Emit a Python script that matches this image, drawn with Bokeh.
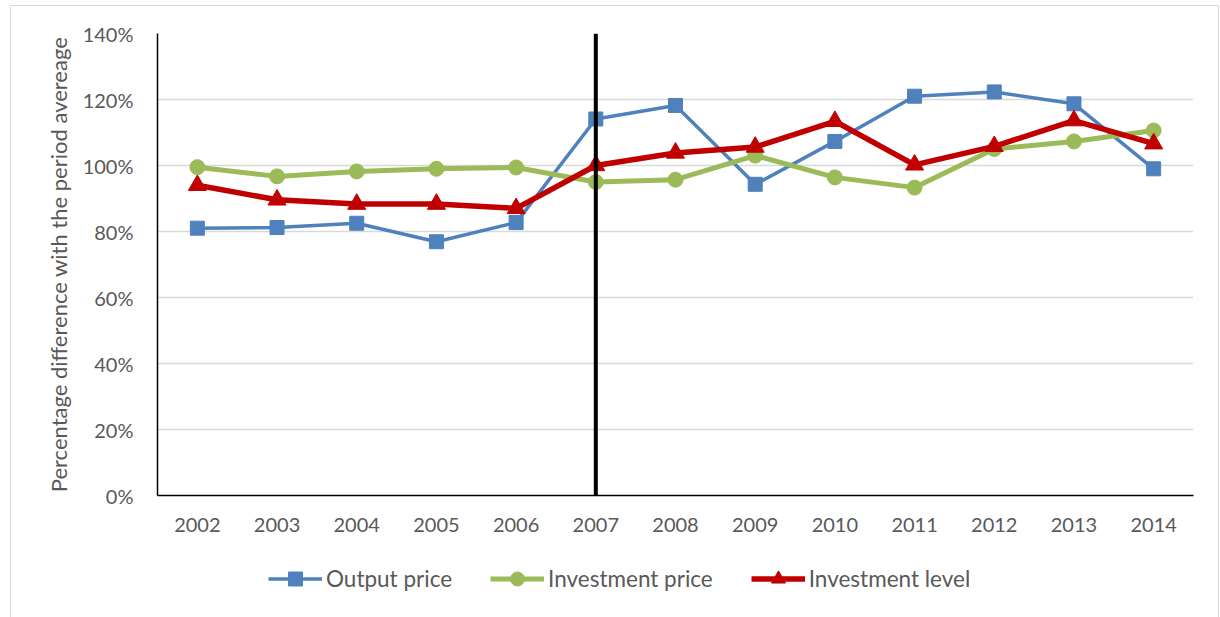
from bokeh.plotting import figure
from bokeh.layouts import column
from bokeh.models import FactorRange, Range1d, FixedTicker, PrintfTickFormatter, Legend, LegendItem
from bokeh.embed import file_html
from bokeh.resources import INLINE

years = ["2002", "2003", "2004", "2005", "2006", "2007", "2008",
         "2009", "2010", "2011", "2012", "2013", "2014"]
output_price = [81.0, 81.2, 82.5, 76.9, 82.7, 114.1, 118.2, 94.3, 107.3, 121.0, 122.3, 118.7, 99.0]
investment_price = [99.5, 96.7, 98.2, 99.0, 99.4, 95.0, 95.7, 103.0, 96.4, 93.3, 105.0, 107.3, 110.6]
investment_level = [94.0, 89.6, 88.3, 88.3, 87.0, 100.0, 103.8, 105.6, 113.4, 100.2, 105.8, 113.6, 106.6]
series_names = ["Output price", "Investment price", "Investment level"]
y_ticks = [0, 20, 40, 60, 80, 100, 120, 140]
break_year = "2007"
y_min, y_max = 0, 140

FONT = "Lato"
GREY = "#595959"
blue, green, red = "#4f81bd", "#9bbb59", "#c00000"
styles_ = [
    dict(color=blue, lw=3.5, marker="square", size=14),
    dict(color=green, lw=5, marker="circle", size=15),
    dict(color=red, lw=5.5, marker="triangle", size=18),
]
data = [output_price, investment_price, investment_level]

x_range = FactorRange(*years)

p = figure(width=1207, height=545, output_backend="svg", toolbar_location=None,
           x_range=x_range, y_range=Range1d(y_min, y_max),
           min_border_left=146, min_border_right=25, min_border_top=27, min_border_bottom=56)
p.outline_line_color = None
p.background_fill_color = "white"
p.border_fill_color = "white"

p.xgrid.grid_line_color = None
p.ygrid.grid_line_color = "#d9d9d9"
p.ygrid.grid_line_width = 1.5

p.yaxis.ticker = FixedTicker(ticks=y_ticks)
p.yaxis.formatter = PrintfTickFormatter(format="%d%%")
for ax in (p.xaxis[0], p.yaxis[0]):
    ax.axis_line_color = "black"
    ax.axis_line_width = 1.5
    ax.major_tick_line_color = None
    ax.minor_tick_line_color = None
    ax.major_label_text_font = FONT
    ax.major_label_text_font_size = "20px"
    ax.major_label_text_color = GREY
p.yaxis.major_label_standoff = 18
p.xaxis.major_label_standoff = 16
p.yaxis.axis_label = "Percentage difference with the period avereage"
p.yaxis.axis_label_text_font = FONT
p.yaxis.axis_label_text_font_size = "22px"
p.yaxis.axis_label_text_font_style = "normal"
p.yaxis.axis_label_text_color = GREY
p.yaxis.axis_label_standoff = 8

for vals, st in zip(data, styles_):
    p.line(years, vals, line_color=st["color"], line_width=st["lw"])
    p.scatter(years, vals, marker=st["marker"], size=st["size"],
              fill_color=st["color"], line_color=st["color"])

p.segment(x0=[break_year], y0=[y_min], x1=[break_year], y1=[y_max], line_color="black", line_width=4)

# Legend strip below the chart (same series, drawn outside its visible range)
lf = figure(width=1207, height=66, output_backend="svg", toolbar_location=None,
            x_range=x_range, y_range=Range1d(-20, -10),
            x_axis_location=None, y_axis_location=None,
            min_border_left=0, min_border_right=0, min_border_top=0, min_border_bottom=0)
lf.outline_line_color = None
lf.grid.grid_line_color = None
lf.border_fill_color = "white"
items = []
for name, vals, st in zip(series_names, data, styles_):
    r1 = lf.line(years, vals, line_color=st["color"], line_width=st["lw"])
    r2 = lf.scatter(years, vals, marker=st["marker"], size=st["size"],
                    fill_color=st["color"], line_color=st["color"])
    items.append(LegendItem(label=name, renderers=[r1, r2]))

legend = Legend(items=items, location=(111, 21), orientation="horizontal")
legend.border_line_color = None
legend.background_fill_alpha = 0
legend.label_text_font = FONT
legend.label_text_font_size = "22.5px"
legend.label_text_color = GREY
legend.glyph_width = 54
legend.glyph_height = 35
legend.spacing = 38
legend.label_standoff = 4
legend.padding = 0
legend.margin = 0
lf.add_layout(legend, "center")

layout = column(p, lf, spacing=0,
                styles={"border": "1px solid #d9d9d9", "margin-left": "10px", "margin-top": "5px"})

open("out.html", "w").write(file_html(layout, INLINE))
